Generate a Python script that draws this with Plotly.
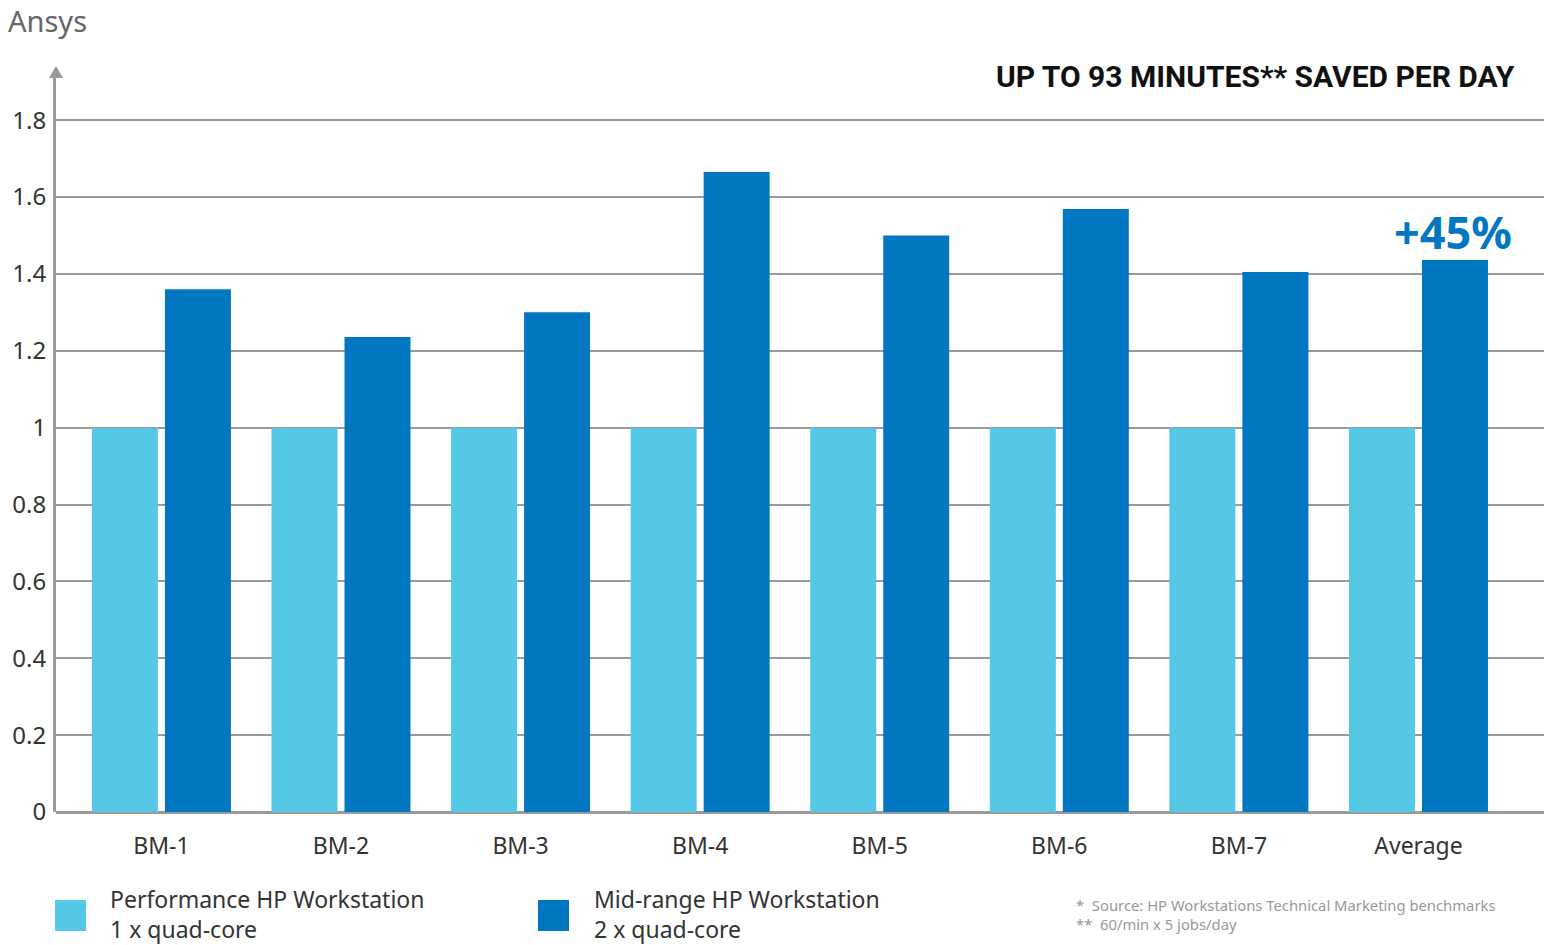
import plotly.graph_objects as go

categories = ["BM-1", "BM-2", "BM-3", "BM-4", "BM-5", "BM-6", "BM-7", "Average"]
performance = [1, 1, 1, 1, 1, 1, 1, 1]
midrange = [1.36, 1.236, 1.30, 1.665, 1.50, 1.569, 1.405, 1.436]
tick_vals = [0, 0.2, 0.4, 0.6, 0.8, 1.0, 1.2, 1.4, 1.6, 1.8]
tick_text = ["0", "0.2", "0.4", "0.6", "0.8", "1", "1.2", "1.4", "1.6", "1.8"]
series_names = ["Performance HP Workstation<br>1 x quad-core", "Mid-range HP Workstation<br>2 x quad-core"]

LIGHT = "#55c8e6"
DARK = "#0077c0"
GRID = "#9a9a9a"
FONT = "Noto Sans, DejaVu Sans, sans-serif"

W, H = 1548, 945
ml, mr, mt, mb = 56, 4, 74, 133

fig = go.Figure()
fig.add_trace(go.Bar(x=list(range(len(categories))), y=performance, marker_color=LIGHT,
                     marker_line_width=0, name="Performance", showlegend=False))
fig.add_trace(go.Bar(x=list(range(len(categories))), y=midrange, marker_color=DARK,
                     marker_line_width=0, name="Mid-range", showlegend=False))

fig.update_layout(
    width=W, height=H,
    margin=dict(l=ml, r=mr, t=mt, b=mb),
    paper_bgcolor="white", plot_bgcolor="white",
    barmode="group", bargap=0.187, bargroupgap=0.096,
    font=dict(family=FONT, color="#333333"),
    xaxis=dict(range=[-0.587, 7.699], tickmode="array",
               tickvals=list(range(len(categories))), ticktext=categories,
               tickfont=dict(size=23, color="#333333", family=FONT),
               showgrid=False, zeroline=False, showline=False, ticks="",
               ticklabelstandoff=18, fixedrange=True),
    yaxis=dict(range=[0, 1.92], tickmode="array", tickvals=tick_vals, ticktext=tick_text,
               tickfont=dict(size=24, color="#333333", family=FONT),
               showgrid=True, gridcolor=GRID, gridwidth=2,
               zeroline=True, zerolinecolor=GRID, zerolinewidth=3,
               showline=True, linecolor=GRID, linewidth=3, ticks="",
               ticklabelstandoff=2, fixedrange=True),
)

# axis arrow
fig.add_shape(type="path", xref="paper", yref="paper",
              path="M -0.0047 0.9946 L 0.0047 0.9946 L 0 1.0108 Z",
              fillcolor=GRID, line=dict(width=0))

# titles
fig.add_annotation(text="Ansys", xref="paper", yref="paper", x=-ml / (W - ml - mr), y=1 + (mt - 21) / (H - mt - mb),
                   xanchor="left", yanchor="middle", showarrow=False,
                   font=dict(size=29, color="#666666", family=FONT), xshift=6)
fig.add_annotation(text="<b>UP TO 93 MINUTES** SAVED PER DAY</b>", xref="paper", yref="paper",
                   x=(1517 - ml) / (W - ml - mr), y=1 + (mt - 77) / (H - mt - mb),
                   xanchor="right", yanchor="middle", showarrow=False,
                   font=dict(size=30, color="#111111", family="Roboto, sans-serif"))
fig.add_annotation(text="<b>+45%</b>", xref="paper", yref="paper",
                   x=(1453 - ml) / (W - ml - mr), y=1 + (mt - 232) / (H - mt - mb),
                   xanchor="center", yanchor="middle", showarrow=False,
                   font=dict(size=45, color=DARK, family=FONT))

# legend
def px2paper(px, py):
    return (px - ml) / (W - ml - mr), 1 - (py - mt) / (H - mt - mb)

for (sx, color, name, tx) in [(55, LIGHT, series_names[0], 108), (538, DARK, series_names[1], 592)]:
    x0, y0 = px2paper(sx, 900)
    x1, y1 = px2paper(sx + 31, 931)
    fig.add_shape(type="rect", xref="paper", yref="paper", x0=x0, x1=x1, y0=y1, y1=y0,
                  fillcolor=color, line=dict(width=0))
    ax, ay = px2paper(tx, 914)
    fig.add_annotation(text=name, xref="paper", yref="paper", x=ax, y=ay, xanchor="left",
                       yanchor="middle", align="left", showarrow=False,
                       font=dict(size=23, color="#333333", family=FONT))

fx, fy = px2paper(1074, 914)
fig.add_annotation(text="*  Source: HP Workstations Technical Marketing benchmarks<br>**  60/min x 5 jobs/day",
                   xref="paper", yref="paper", x=fx, y=fy, xanchor="left", yanchor="middle",
                   align="left", showarrow=False,
                   font=dict(size=14.8, color="#999999", family=FONT))

fig.write_html("out.html")
